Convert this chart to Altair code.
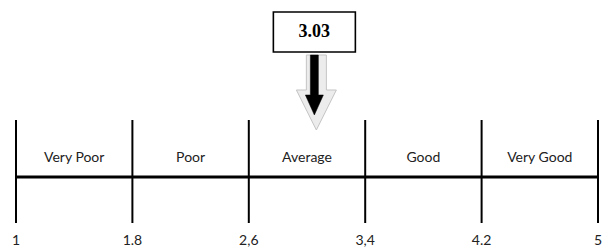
import altair as alt
import pandas as pd

# ---- data ----
boundaries = [1, 1.8, 2.6, 3.4, 4.2, 5]
tick_labels = ["1", "1.8", "2,6", "3,4", "4.2", "5"]
categories = ["Very Poor", "Poor", "Average", "Good", "Very Good"]
score = 3.03
score_label = "3.03"

bdf = pd.DataFrame({"b": boundaries, "lab": tick_labels})
cdf = pd.DataFrame({
    "cat": categories,
    "mid": [(boundaries[i] + boundaries[i + 1]) / 2 for i in range(len(categories))],
})
axis_df = pd.DataFrame({"x1": [boundaries[0]], "x2": [boundaries[-1]]})
sdf = pd.DataFrame({"v": [score], "lab": [score_label]})

xs = alt.Scale(domain=[boundaries[0], boundaries[-1]], nice=False, zero=False)

vlines = alt.Chart(bdf).mark_rule(color="black", strokeWidth=2).encode(
    x=alt.X("b:Q", scale=xs, axis=None),
    y=alt.value(112), y2=alt.value(215),
)

hline = alt.Chart(axis_df).mark_rule(color="black", strokeWidth=3).encode(
    x=alt.X("x1:Q", scale=xs, axis=None), x2="x2:Q",
    y=alt.value(169),
)

cat_text = alt.Chart(cdf).mark_text(
    font="Lato", fontSize=14, color="#222222", baseline="middle", align="center"
).encode(
    x=alt.X("mid:Q", scale=xs, axis=None), y=alt.value(150), text="cat:N"
)

tick_text = alt.Chart(bdf).mark_text(
    font="Lato", fontSize=14, color="#222222", baseline="middle", align="center"
).encode(
    x=alt.X("b:Q", scale=xs, axis=None), y=alt.value(233), text="lab:N"
)

shadow_path = "M-0.267,-1L0.267,-1L0.267,-0.067L0.533,-0.067L0,1L-0.533,-0.067L-0.267,-0.067Z"
arrow_path = "M-0.133,-1L0.133,-1L0.133,0.333L0.3,0.333L0,1L-0.3,0.333L-0.133,0.333Z"
box_path = "M-1,-0.488L1,-0.488L1,0.488L-1,0.488Z"

shadow = alt.Chart(sdf).mark_point(
    shape=shadow_path, filled=True, fill="#ececec", stroke="#c4c4c4",
    strokeWidth=1, size=75 * 75, opacity=1, xOffset=5,
).encode(x=alt.X("v:Q", scale=xs, axis=None), y=alt.value(84.5))

arrow = alt.Chart(sdf).mark_point(
    shape=arrow_path, filled=True, fill="black", stroke="black",
    strokeWidth=0.5, size=60 * 60, opacity=1, xOffset=3,
).encode(x=alt.X("v:Q", scale=xs, axis=None), y=alt.value(77))

box = alt.Chart(sdf).mark_point(
    shape=box_path, filled=True, fill="white", stroke="black",
    strokeWidth=1.6, size=82 * 82, opacity=1, xOffset=3,
).encode(x=alt.X("v:Q", scale=xs, axis=None), y=alt.value(24))

box_text = alt.Chart(sdf).mark_text(
    font="Liberation Serif", fontSize=18, fontWeight="bold", color="black",
    baseline="middle", align="center", xOffset=3,
).encode(x=alt.X("v:Q", scale=xs, axis=None), y=alt.value(24), text="lab:N")

chart = alt.layer(
    shadow, arrow, vlines, hline, cat_text, tick_text, box, box_text
).properties(
    width=582, height=240,
    padding={"left": 8, "right": 5, "top": 0, "bottom": 0},
    autosize=alt.AutoSizeParams(type="none"),
).configure_view(stroke=None)

chart.save("out.html", embed_options={"renderer": "svg", "actions": False})
